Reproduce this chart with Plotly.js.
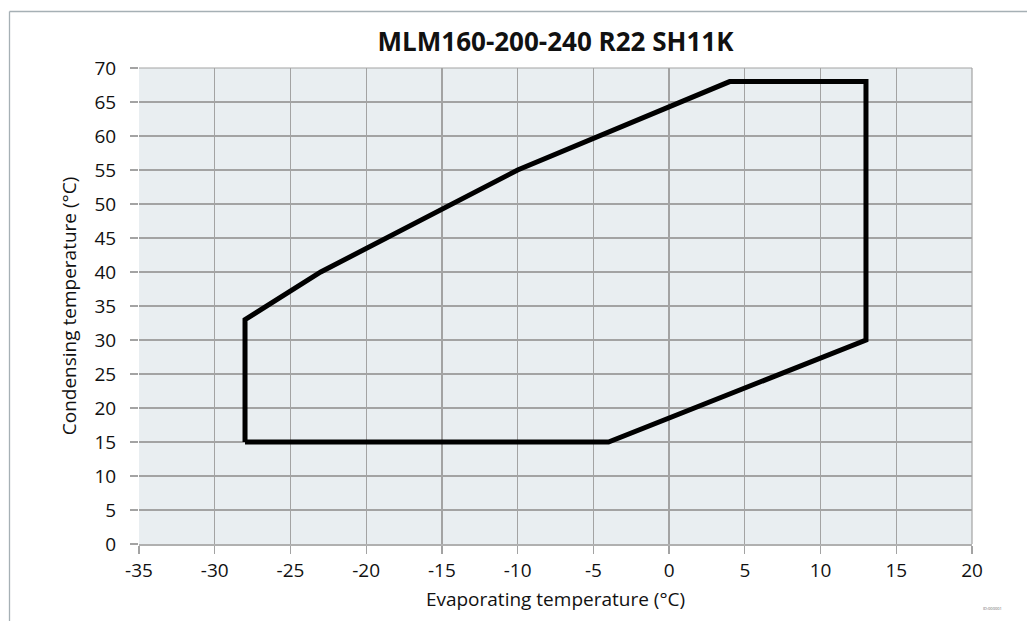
<!DOCTYPE html>
<html><head><meta charset="utf-8">
<script src="https://cdn.plot.ly/plotly-3.0.1.min.js"></script>
<style>html,body{margin:0;padding:0;background:#fff;}#chart{width:1027px;height:621px;}</style>
</head><body><div id="chart"></div>
<script>
const evaporating = [-28, -28, -23, -10, 4, 13, 13, -4, -28];
const condensing  = [15, 33, 40, 55, 68, 68, 30, 15, 15];
const xTicks = [-35, -30, -25, -20, -15, -10, -5, 0, 5, 10, 15, 20];
const yTicks = [0, 5, 10, 15, 20, 25, 30, 35, 40, 45, 50, 55, 60, 65, 70];

const font = "'Open Sans', 'Liberation Sans', sans-serif";
const trace = {
  x: evaporating, y: condensing, mode: 'lines', type: 'scatter',
  line: {color: '#000', width: 5}, hoverinfo: 'skip', showlegend: false
};
const tickAxis = {
  x: [], y: [], type: 'scatter', mode: 'lines', yaxis: 'y2', hoverinfo: 'skip', showlegend: false
};
const layout = {
  width: 1027, height: 621,
  margin: {l: 139, r: 55, t: 68, b: 77},
  paper_bgcolor: '#fff', plot_bgcolor: '#e9eef1',
  font: {family: font, color: '#111', size: 19},
  title: {text: '<b>MLM160-200-240 R22 SH11K</b>', font: {family: font, size: 26, color: '#111'},
          x: 0.5, xref: 'paper', yref: 'container', y: 1 - 42 / 621, yanchor: 'middle'},
  xaxis: {range: [-35, 20], tickvals: xTicks, ticktext: xTicks.map(String),
          showgrid: true, gridcolor: '#a3a3a3', gridwidth: 1.2, zeroline: false,
          showline: true, linecolor: '#b0b0b0', linewidth: 2, mirror: false,
          ticks: 'outside', ticklen: 8, tickcolor: '#a3a3a3', tickwidth: 1.2,
          tickfont: {size: 19}, fixedrange: true,
          title: {text: 'Evaporating temperature (°C)', font: {size: 19}, standoff: 11}},
  yaxis: {range: [0, 70], tickvals: yTicks, ticktext: yTicks.map(String),
          showgrid: true, gridcolor: '#a3a3a3', gridwidth: 1.2, zeroline: false,
          showline: false, ticks: 'outside', ticklen: 18, tickcolor: 'rgba(0,0,0,0)', tickwidth: 1,
          tickfont: {size: 19}, fixedrange: true,
          title: {text: 'Condensing temperature (°C)', font: {size: 19}, standoff: 12}},
  yaxis2: {range: [0, 70], overlaying: 'y', side: 'left', tickvals: yTicks, showticklabels: false,
          showgrid: false, zeroline: false, showline: false,
          ticks: 'outside', ticklen: 8, tickcolor: '#a3a3a3', tickwidth: 1.2, fixedrange: true},
  shapes: [
    {type: 'line', xref: 'paper', yref: 'paper', x0: 1, x1: 1, y0: 0, y1: 1, line: {color: '#a3a3a3', width: 1.2}},
    {type: 'line', xref: 'paper', yref: 'paper', x0: 0, x1: 1, y0: 1, y1: 1, line: {color: '#a3a3a3', width: 1.2}}
  ],
  annotations: [
    {text: 'ID:000001', xref: 'paper', yref: 'paper', x: 1.025, y: -0.135, showarrow: false,
     font: {size: 4, color: '#666'}, xanchor: 'center', yanchor: 'middle'}
  ]
};
Plotly.newPlot('chart', [trace, tickAxis], layout, {displayModeBar: false, staticPlot: true}).then(function(){
  const svg = document.querySelector('#chart svg.main-svg');
  const ns = 'http://www.w3.org/2000/svg';
  const g = document.createElementNS(ns, 'g');
  const l1 = document.createElementNS(ns, 'line');
  l1.setAttribute('x1', 9.5); l1.setAttribute('y1', 11.5); l1.setAttribute('x2', 1027); l1.setAttribute('y2', 11.5);
  const l2 = document.createElementNS(ns, 'line');
  l2.setAttribute('x1', 9.5); l2.setAttribute('y1', 11.5); l2.setAttribute('x2', 9.5); l2.setAttribute('y2', 621);
  [l1, l2].forEach(l => { l.setAttribute('stroke', '#a6b0b5'); l.setAttribute('stroke-width', 1.3); g.appendChild(l); });
  svg.appendChild(g);
});
</script></body></html>
